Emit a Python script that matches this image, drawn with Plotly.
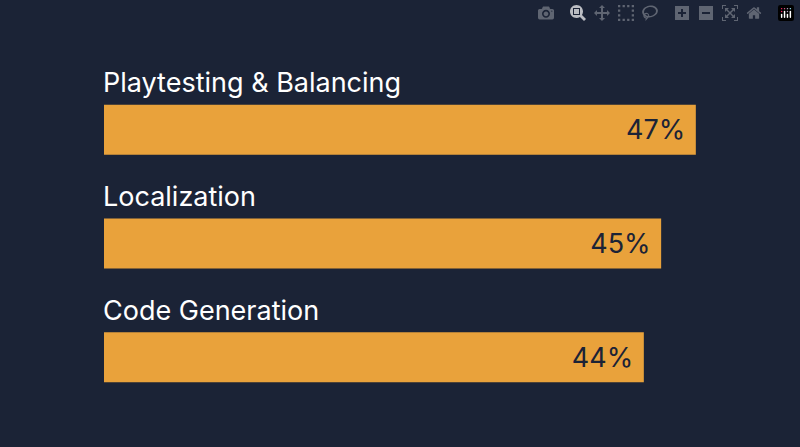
import plotly.graph_objects as go

categories = ["Playtesting & Balancing", "Localization", "Code Generation"]
values = [47, 45, 44]
value_labels = ["47%", "45%", "44%"]

bg = "#1b2336"
bar_color = "#e9a23b"
pos = list(range(len(categories)))

fig = go.Figure(go.Bar(
    x=values, y=pos, orientation="h", width=0.44,
    marker=dict(color=bar_color, line=dict(width=0)),
    text=[v + "\u00a0" for v in value_labels], textposition="inside", insidetextanchor="end",
    textfont=dict(family="Inter", size=27, color="#1b2336"),
    hoverinfo="skip",
))
x0 = 12.85
for p, c in zip(pos, categories):
    fig.add_annotation(x=x0, y=p, xref="x", yref="y", text=c, showarrow=False,
                       xanchor="left", yanchor="middle", yshift=47, xshift=-3,
                       font=dict(family="Inter", size=27, color="#ffffff"))
fig.update_layout(
    width=800, height=447, paper_bgcolor=bg, plot_bgcolor=bg,
    margin=dict(l=104, r=60, t=72.5, b=32.5), showlegend=False,
    xaxis=dict(range=[x0, x0 + 636 / 17.33], visible=False),
    yaxis=dict(range=[2.5, -0.5], visible=False),
    uniformtext=dict(minsize=8, mode="show"),
)
fig.write_html("out.html", post_script="document.body.style.margin='0';document.body.style.background='#1b2336';")
